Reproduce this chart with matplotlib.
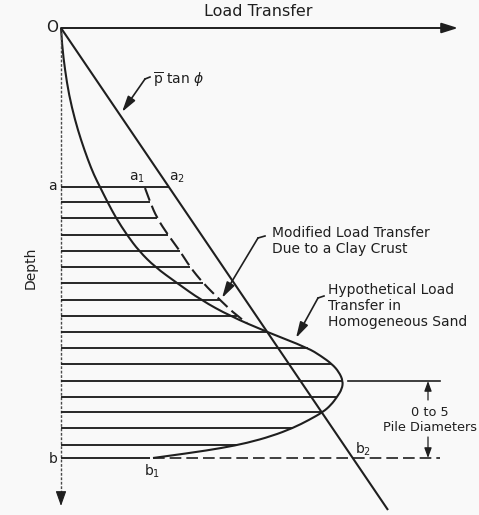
import numpy as np
import matplotlib
matplotlib.use("Agg")
import matplotlib.pyplot as plt
from matplotlib.path import Path
from matplotlib.patches import PathPatch

plt.rcParams["font.family"] = ["DejaVu Sans"]
plt.rcParams["mathtext.fontset"] = "dejavusans"

INK = "#1f1f1f"

# Drawing units: load transfer to the right, depth downward
origin = (61, 28)
axis_load_end = 458
axis_depth_end = 506

# p-bar tan(phi) straight line: end point
ptan_end = (388, 510)

# Hypothetical load transfer in homogeneous sand (load, depth)
sand_load = [61, 62, 65, 69, 75, 81, 88, 94, 100, 107.5, 116, 127, 139, 155, 177,
             201, 230, 267, 308, 321, 332, 339, 343, 342, 337, 331, 323, 309,
             293, 272, 247, 222, 190, 153]
sand_depth = [28, 45, 70, 95, 120, 140, 160, 175, 187, 202, 218, 235, 251, 267, 283,
              300, 316, 332, 348, 356, 364, 372, 381, 389, 397, 405, 412, 420,
              428, 436, 443, 448, 453, 458]

# Modified load transfer due to a clay crust (dashed branch a1 -> curve)
crust_load = [145, 150, 157, 168, 180, 190, 203, 220, 237, 247]
crust_depth = [188, 202, 218, 235, 251, 267, 283, 300, 316, 323]

# Depth of level a, level b and the hatched layers between them
depth_a = 187
depth_b = 458
hatch_depth = [187, 202, 218, 235, 251, 267, 283, 300, 316, 332, 348, 364,
               381, 397, 412, 428, 445, 458]

# Depth of maximum load transfer
depth_peak = 381
dim_x = 428
dim_right = 440


def smooth_path(xs, ys):
    """Quadratic B-spline path through the control points, clamped at both ends."""
    pts = np.column_stack([xs, ys]).astype(float)
    verts = [pts[0]]
    codes = [Path.MOVETO]
    for i in range(1, len(pts) - 1):
        end = pts[i + 1] if i == len(pts) - 2 else (pts[i] + pts[i + 1]) / 2
        verts += [pts[i], end]
        codes += [Path.CURVE3, Path.CURVE3]
    if len(pts) == 2:
        verts.append(pts[1])
        codes.append(Path.LINETO)
    return Path(verts, codes)


fig = plt.figure(figsize=(4.79, 5.15), dpi=100, facecolor="#f9f9f9")
ax = fig.add_axes([0, 0, 1, 1])
ax.set_xlim(0, 479)
ax.set_ylim(515, 0)
ax.axis("off")
ax.set_facecolor("#f9f9f9")

ox, oy = origin
slope = (ptan_end[0] - ox) / (ptan_end[1] - oy)

# axes
ax.annotate("", xy=(axis_load_end, oy), xytext=(ox, oy),
            arrowprops=dict(arrowstyle="-|>,head_length=0.7,head_width=0.22",
                            color=INK, lw=1.4, mutation_scale=14, shrinkA=0, shrinkB=0))
ax.plot([ox, ox], [oy, axis_depth_end - 8], color="#4a4a4a", lw=1.0,
        dashes=(2, 1.2))
ax.annotate("", xy=(ox, axis_depth_end), xytext=(ox, axis_depth_end - 10),
            arrowprops=dict(arrowstyle="-|>,head_length=0.7,head_width=0.25",
                            color=INK, lw=0.8, mutation_scale=13, shrinkA=0, shrinkB=0))

# p-bar tan phi line
ax.plot([ox, ptan_end[0]], [oy, ptan_end[1]], color=INK, lw=1.5,
        solid_capstyle="butt")

# hypothetical curve
ax.add_patch(PathPatch(smooth_path(sand_load, sand_depth), fill=False,
                       edgecolor=INK, lw=1.5, capstyle="butt"))

# modified (dashed) branch
ax.add_patch(PathPatch(smooth_path(crust_load, crust_depth), fill=False,
                       edgecolor=INK, lw=1.5, linestyle=(0, (6.5, 2.6))))

# hatched layers between a and b
limit_depth = crust_depth + [d for d in sand_depth if d > crust_depth[-1]]
limit_load = crust_load + [l for l, d in zip(sand_load, sand_depth) if d > crust_depth[-1]]
for d in hatch_depth:
    if d == depth_a:
        end = ox + slope * (d - oy)
    elif d == depth_b:
        end = 150
    else:
        end = np.interp(d, limit_depth, limit_load)
    ax.plot([ox, end], [d, d], color=INK, lw=1.35, solid_capstyle="butt")

# level b continuation and peak reference line
ax.plot([sand_load[-1], dim_right], [depth_b, depth_b], color=INK, lw=1.2,
        dashes=(7, 3))
ax.plot([348, dim_right], [depth_peak, depth_peak], color=INK, lw=1.2)

# dimension arrows
ax.annotate("", xy=(dim_x, depth_peak), xytext=(dim_x, 400),
            arrowprops=dict(arrowstyle="-|>,head_length=0.6,head_width=0.22",
                            color=INK, lw=0.9, mutation_scale=10, shrinkA=0, shrinkB=0))
ax.annotate("", xy=(dim_x, depth_b), xytext=(dim_x, 437),
            arrowprops=dict(arrowstyle="-|>,head_length=0.6,head_width=0.22",
                            color=INK, lw=0.9, mutation_scale=10, shrinkA=0, shrinkB=0))

# text
fs = 10
ax.text(258, 12, "Load Transfer", fontsize=11.5, ha="center", va="center", color=INK)
ax.text(52, 27, "O", fontsize=11, ha="center", va="center", color=INK)
ax.text(52, 186, "a", fontsize=fs, ha="center", va="center", color=INK)
ax.text(53, 459, "b", fontsize=fs, ha="center", va="center", color=INK)
ax.text(31, 268, "Depth", fontsize=fs, rotation=90, ha="center", va="center", color=INK)
ax.text(137, 178, r"a$_1$", fontsize=fs, ha="center", va="center", color=INK)
ax.text(177, 178, r"a$_2$", fontsize=fs, ha="center", va="center", color=INK)
ax.text(152, 471, r"b$_1$", fontsize=fs, ha="center", va="center", color=INK)
ax.text(363, 449, r"b$_2$", fontsize=fs, ha="center", va="center", color=INK)
ax.text(153, 80, r"$\overline{\mathrm{p}}$ tan $\phi$", fontsize=fs, ha="left",
        va="center", color=INK)
ax.text(272, 241, "Modified Load Transfer\nDue to a Clay Crust", fontsize=fs,
        ha="left", va="center", color=INK, linespacing=1.15)
ax.text(328, 306, "Hypothetical Load\nTransfer in\nHomogeneous Sand", fontsize=fs,
        ha="left", va="center", color=INK, linespacing=1.15)
ax.text(430, 420, "0 to 5\nPile Diameters", fontsize=9.3, ha="center", va="center",
        color=INK, linespacing=1.2)

# leaders: short hook then straight arrow
leaders = [((150, 77), (145, 79), (122, 112)),
           ((265, 236), (258, 238), (222, 298)),
           ((324, 296), (318, 298), (296, 338))]
for start, hook, tip in leaders:
    ax.plot([start[0], hook[0]], [start[1], hook[1]], color=INK, lw=1.2)
    ax.annotate("", xy=tip, xytext=hook,
                arrowprops=dict(arrowstyle="-|>,head_length=0.8,head_width=0.22",
                                color=INK, lw=1.2, mutation_scale=12,
                                shrinkA=0, shrinkB=0))

fig.savefig("out.png", dpi=100, facecolor=fig.get_facecolor())
